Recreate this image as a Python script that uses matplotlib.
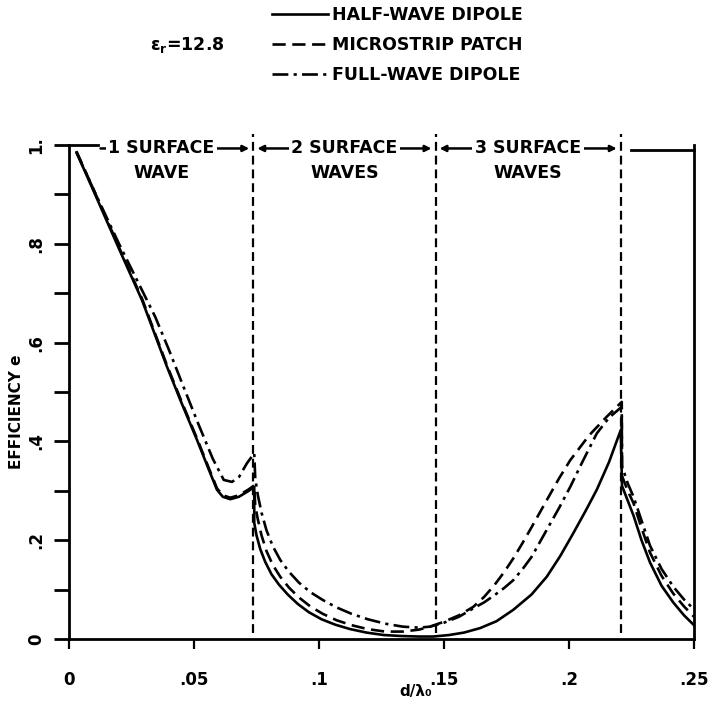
import matplotlib
matplotlib.use("Agg")
import matplotlib.pyplot as plt
from matplotlib.ticker import MultipleLocator

# ---------------- data ----------------
boundaries = [0.0737, 0.1466, 0.2207]
region_labels = [("1 SURFACE", "WAVE"), ("2 SURFACE", "WAVES"), ("3 SURFACE", "WAVES")]
xticks = [0, 0.05, 0.1, 0.15, 0.2, 0.25]
xticklabels = ["0", ".05", ".1", ".15", ".2", ".25"]
yticks = [0, 0.2, 0.4, 0.6, 0.8, 1.0]
yticklabels = ["0", ".2", ".4", ".6", ".8", "1."]

half_x = [0.003, 0.010, 0.020, 0.0292, 0.0392, 0.045, 0.0512, 0.056, 0.0592, 0.0615, 0.0645,
          0.068, 0.0719, 0.0741,
          0.0741, 0.0750, 0.0765, 0.0785, 0.0810, 0.0840, 0.0875, 0.0915, 0.0960, 0.1010,
          0.1065, 0.1125, 0.1190, 0.1260, 0.1330, 0.1400,
          0.1457, 0.1520, 0.1580, 0.1644, 0.1710, 0.1777, 0.1850, 0.1911, 0.1965, 0.2017,
          0.2065, 0.2111, 0.2160, 0.2207,
          0.2212, 0.2235, 0.2258, 0.2290, 0.2324, 0.2370, 0.2417, 0.2460, 0.2500]
half_y = [0.985, 0.905, 0.790, 0.686, 0.551, 0.478, 0.403, 0.342, 0.302, 0.288, 0.283,
          0.288, 0.300, 0.308,
          0.235, 0.210, 0.182, 0.156, 0.131, 0.110, 0.090, 0.071, 0.054, 0.040,
          0.029, 0.020, 0.013, 0.008, 0.006, 0.005,
          0.005, 0.008, 0.013, 0.022, 0.036, 0.059, 0.090, 0.126, 0.168, 0.214,
          0.258, 0.302, 0.358, 0.423,
          0.310, 0.280, 0.250, 0.200, 0.155, 0.108, 0.074, 0.048, 0.028]

patch_x = [0.003, 0.010, 0.020, 0.0292, 0.0392, 0.045, 0.0512, 0.056, 0.0592, 0.0615, 0.0645,
           0.068, 0.0719, 0.0741,
           0.0745, 0.0755, 0.0770, 0.0790, 0.0815, 0.0845, 0.0880, 0.0920, 0.0965, 0.1015,
           0.1070, 0.1130, 0.1195, 0.1265, 0.1335, 0.1400,
           0.1444, 0.1500, 0.1560, 0.1617, 0.1660, 0.1700, 0.1740, 0.1777, 0.1815, 0.1850,
           0.1911, 0.1960, 0.2005, 0.2080, 0.2151, 0.2211,
           0.2212, 0.2235, 0.2258, 0.2290, 0.2324, 0.2370, 0.2417, 0.2460, 0.2500]
patch_y = [0.987, 0.908, 0.793, 0.689, 0.554, 0.481, 0.406, 0.345, 0.305, 0.291, 0.286,
           0.291, 0.303, 0.311,
           0.270, 0.243, 0.210, 0.178, 0.150, 0.126, 0.104, 0.084, 0.066, 0.051,
           0.038, 0.028, 0.020, 0.015, 0.015, 0.019,
           0.025, 0.035, 0.048, 0.065, 0.085, 0.108, 0.135, 0.163, 0.195, 0.226,
           0.281, 0.325, 0.362, 0.412, 0.450, 0.480,
           0.330, 0.300, 0.275, 0.225, 0.175, 0.128, 0.092, 0.066, 0.045]

full_x = [0.003, 0.010, 0.020, 0.0345, 0.040, 0.046, 0.052, 0.0575, 0.0619, 0.0652, 0.068,
          0.0712, 0.0741,
          0.0745, 0.0755, 0.0770, 0.0790, 0.0815, 0.0845, 0.0880, 0.0920, 0.0965, 0.1015,
          0.1070, 0.1130, 0.1195, 0.1265, 0.1335, 0.1400,
          0.1444, 0.1500, 0.1560, 0.1617, 0.1660, 0.1700, 0.1740, 0.1777, 0.1815, 0.1850,
          0.1911, 0.1960, 0.2005, 0.2055, 0.2111, 0.2160, 0.2211,
          0.2212, 0.2235, 0.2258, 0.2290, 0.2324, 0.2370, 0.2417, 0.2460, 0.2500]
full_y = [0.985, 0.908, 0.800, 0.652, 0.585, 0.508, 0.432, 0.365, 0.322, 0.318, 0.328,
          0.356, 0.376,
          0.325, 0.292, 0.256, 0.220, 0.188, 0.160, 0.136, 0.114, 0.095, 0.079,
          0.064, 0.051, 0.040, 0.031, 0.025, 0.023,
          0.025, 0.033, 0.045, 0.062, 0.074, 0.088, 0.103, 0.119, 0.142, 0.166,
          0.221, 0.265, 0.308, 0.360, 0.416, 0.448, 0.470,
          0.350, 0.315, 0.288, 0.240, 0.189, 0.142, 0.106, 0.080, 0.060]

# ---------------- figure ----------------
W, H = 719, 702
fig = plt.figure(figsize=(W / 100, H / 100), dpi=100)
ax = fig.add_axes([69 / W, 1 - 639 / H, (694 - 69) / W, (639 - 145) / H])

lw = 1.9
l1, = ax.plot(half_x, half_y, color="black", lw=lw, ls="-", label="HALF-WAVE DIPOLE")
l2, = ax.plot(patch_x, patch_y, color="black", lw=lw, ls=(0, (5, 2.5)), label="MICROSTRIP PATCH")
l3, = ax.plot(full_x, full_y, color="black", lw=lw, ls=(0, (6, 2, 1.2, 2)), label="FULL-WAVE DIPOLE")

for b in boundaries:
    ax.plot([b, b], [0.012, 1.022], color="black", lw=1.6, ls=(0, (4, 2.2)), clip_on=False)

ax.set_xlim(0, 0.25)
ax.set_ylim(0, 1.0)

ax.spines["top"].set_visible(False)
for s in ["left", "bottom", "right"]:
    ax.spines[s].set_linewidth(2.0)

# partial top frame
ax.plot([0, 0.0115], [1.0, 1.0], color="black", lw=2.0, clip_on=False)
ax.plot([0.2248, 0.25], [0.99, 0.99], color="black", lw=2.0, clip_on=False)

ax.set_xticks(xticks)
ax.set_xticklabels(xticklabels, fontweight="bold", fontsize=12)
ax.set_yticks(yticks)
ax.set_yticklabels(yticklabels, fontweight="bold", fontsize=12, rotation=90, va="center")
ax.yaxis.set_minor_locator(MultipleLocator(0.1))
ax.tick_params(axis="y", which="both", direction="out", length=11, width=2.0, pad=6)
ax.tick_params(axis="x", which="both", direction="out", length=7, width=1.6, pad=16)

ax.set_ylabel("EFFICIENCY e", fontweight="bold", fontsize=11)
ax.yaxis.set_label_coords(-0.072, 0.46)
ax.set_xlabel("d/λ₀", fontweight="bold", fontsize=11)
ax.xaxis.set_label_coords(0.555, -0.091)

# region labels with arrows
tfs = 12.5
edges = [0.0] + boundaries
for i, (top, bottom) in enumerate(region_labels):
    x0, x1 = edges[i], edges[i + 1]
    xc = (x0 + x1) / 2
    if i == 0:
        xc = 0.037
        ax.annotate("", xy=(x1 - 0.0005, 0.993), xytext=(0.0115, 0.993),
                    arrowprops=dict(arrowstyle="-|>", color="black", lw=1.8, mutation_scale=9),
                    annotation_clip=False)
    else:
        ax.annotate("", xy=(x1 - 0.0005, 0.993), xytext=(x0 + 0.0005, 0.993),
                    arrowprops=dict(arrowstyle="<|-|>", color="black", lw=1.8, mutation_scale=9),
                    annotation_clip=False)
    ax.text(xc, 0.993, top, ha="center", va="center", fontsize=tfs, fontweight="bold",
            bbox=dict(boxstyle="square,pad=0.15", fc="white", ec="none"), clip_on=False)
    ax.text(xc, 0.943, bottom, ha="center", va="center", fontsize=tfs, fontweight="bold")

# legend and epsilon label
plt.rcParams["mathtext.default"] = "bf"
fig.text(150 / W, 1 - 45 / H, r"$\epsilon_r$=12.8", fontsize=12.5, fontweight="bold",
         ha="left", va="center")
fig.legend(handles=[l1, l2, l3], loc="upper left", bbox_to_anchor=(272 / W, 1 - 6 / H),
           frameon=False, prop=dict(weight="bold", size=12.5), handlelength=3.2,
           handletextpad=0.25, labelspacing=0.68, borderpad=0, borderaxespad=0)

fig.savefig("out.png", dpi=100)
